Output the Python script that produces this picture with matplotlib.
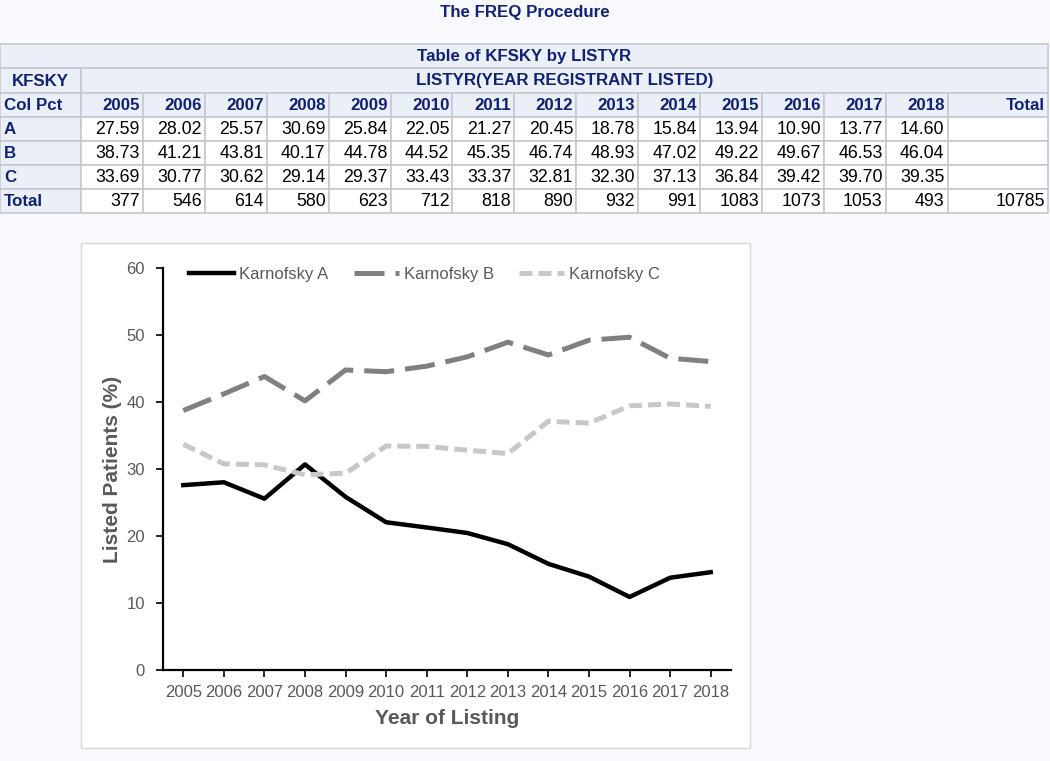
import numpy as np
import matplotlib.pyplot as plt
from matplotlib.patches import Rectangle

years = [2005, 2006, 2007, 2008, 2009, 2010, 2011, 2012, 2013, 2014, 2015, 2016, 2017, 2018]
pct_a = [27.59, 28.02, 25.57, 30.69, 25.84, 22.05, 21.27, 20.45, 18.78, 15.84, 13.94, 10.90, 13.77, 14.60]
pct_b = [38.73, 41.21, 43.81, 40.17, 44.78, 44.52, 45.35, 46.74, 48.93, 47.02, 49.22, 49.67, 46.53, 46.04]
pct_c = [33.69, 30.77, 30.62, 29.14, 29.37, 33.43, 33.37, 32.81, 32.30, 37.13, 36.84, 39.42, 39.70, 39.35]
totals = [377, 546, 614, 580, 623, 712, 818, 890, 932, 991, 1083, 1073, 1053, 493]
grand_total = 10785

W, H = 1050, 761
navy = '#112277'
page_bg = '#f8f9fd'
head_bg = '#ebf0f8'
grid_c = '#c4c8d0'

plt.rcParams['font.family'] = ['Liberation Sans', 'DejaVu Sans']

fig = plt.figure(figsize=(W / 100, H / 100), dpi=100)
fig.patch.set_facecolor(page_bg)

# overlay in pixel coordinates for the SAS table
bg = fig.add_axes([0, 0, 1, 1])
bg.set_xlim(0, W)
bg.set_ylim(H, 0)
bg.axis('off')

bg.text(525, 12, 'The FREQ Procedure', ha='center', va='center',
        fontsize=12.2, fontweight='bold', color=navy)

col_edges = [0, 81] + [81 + 61.9 * (i + 1) for i in range(len(years))] + [1048]
row_edges = [44, 68, 93, 117, 141, 165, 189, 213]


def cell(x0, x1, y0, y1, txt, fc, color, bold, ha='right'):
    bg.add_patch(Rectangle((x0, y0), x1 - x0, y1 - y0, facecolor=fc,
                           edgecolor=grid_c, lw=1.2))
    if ha == 'right':
        tx = x1 - 3
    elif ha == 'left':
        tx = x0 + 4
    else:
        tx = (x0 + x1) / 2
    bg.text(tx, (y0 + y1) / 2 + 0.5, txt, ha=ha, va='center',
            fontsize=12.2 if bold else 12.8,
            fontweight='bold' if bold else 'normal', color=color)


# title rows
cell(0, 1048, row_edges[0], row_edges[1], 'Table of KFSKY by LISTYR', head_bg, navy, True, 'center')
cell(0, 81, row_edges[1], row_edges[2], 'KFSKY', head_bg, navy, True, 'center')
cell(81, 1048, row_edges[1], row_edges[2], 'LISTYR(YEAR REGISTRANT LISTED)', head_bg, navy, True, 'center')

# column header row
cell(0, 81, row_edges[2], row_edges[3], 'Col Pct', head_bg, navy, True, 'left')
for i, y in enumerate(years):
    cell(col_edges[i + 1], col_edges[i + 2], row_edges[2], row_edges[3], str(y), head_bg, navy, True)
cell(col_edges[-2], col_edges[-1], row_edges[2], row_edges[3], 'Total', head_bg, navy, True)

rows = [('A', pct_a), ('B', pct_b), ('C', pct_c)]
for r, (lab, vals) in enumerate(rows):
    y0, y1 = row_edges[3 + r], row_edges[4 + r]
    cell(0, 81, y0, y1, lab, head_bg, navy, True, 'left')
    for i, v in enumerate(vals):
        cell(col_edges[i + 1], col_edges[i + 2], y0, y1, f'{v:.2f}', 'white', 'black', False)
    cell(col_edges[-2], col_edges[-1], y0, y1, '', 'white', 'black', False)

y0, y1 = row_edges[6], row_edges[7]
cell(0, 81, y0, y1, 'Total', head_bg, navy, True, 'left')
for i, v in enumerate(totals):
    cell(col_edges[i + 1], col_edges[i + 2], y0, y1, str(v), 'white', 'black', False)
cell(col_edges[-2], col_edges[-1], y0, y1, str(grand_total), 'white', 'black', False)

# white chart box
bg.add_patch(Rectangle((81, 243), 669, 505, facecolor='white', edgecolor='#d9d9d9', lw=1))

# line chart
ax = fig.add_axes([163 / W, 1 - 670 / H, (731 - 163) / W, (670 - 268) / H])
ax.set_facecolor('white')
x = np.arange(len(years))
ax.plot(x, pct_a, color='black', lw=3.2, label='Karnofsky A')
ax.plot(x, pct_b, color='#808080', lw=3.6, dashes=(6, 2.2), label='Karnofsky B')
ax.plot(x, pct_c, color='#c8c8c8', lw=3.6, dashes=(2.6, 1.2), label='Karnofsky C')

ax.set_xlim(-0.5, len(years) - 0.5)
ax.set_ylim(0, 60)
ax.set_yticks([0, 10, 20, 30, 40, 50, 60])
ax.set_xticks(x)
ax.set_xticklabels([str(y) for y in years])
for s in ['top', 'right']:
    ax.spines[s].set_visible(False)
for s in ['left', 'bottom']:
    ax.spines[s].set_color('black')
    ax.spines[s].set_linewidth(1.6)
ax.tick_params(axis='both', direction='out', length=5, width=1.2, colors='black',
               labelcolor='#595959', labelsize=12)
ax.tick_params(axis='x', pad=6)
ax.tick_params(axis='y', pad=8)

ax.set_xlabel('Year of Listing', fontsize=15, fontweight='bold', color='#595959', labelpad=6)
ax.set_ylabel('Listed Patients (%)', fontsize=15, fontweight='bold', color='#595959', labelpad=3)

leg = ax.legend(loc='upper left', bbox_to_anchor=(0.02, 1.04), ncol=3, frameon=False,
                fontsize=12, handlelength=2.7, handletextpad=0.3, columnspacing=1.5)
for t in leg.get_texts():
    t.set_color('#595959')

fig.savefig('out.png', dpi=100, facecolor=page_bg)
